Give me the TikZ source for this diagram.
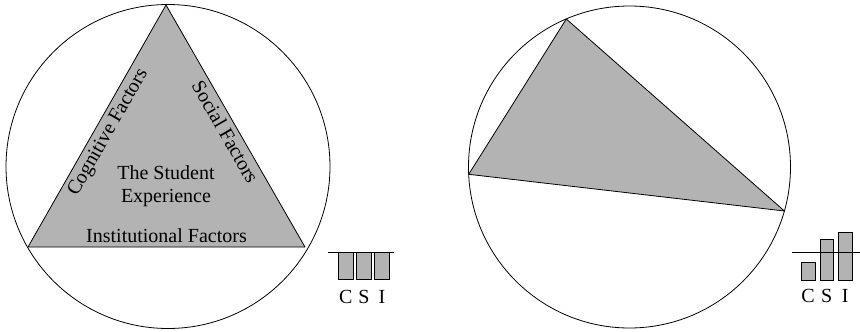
\documentclass[tikz,border=0pt]{standalone}
\usepackage{fontspec}
\setmainfont{Liberation Serif}
\usetikzlibrary{calc, positioning}
\definecolor{shade}{RGB}{179, 179, 179}

\begin{document}
\begin{tikzpicture}[x=1pt, y=-1pt,
        ring/.style={draw, line width=0.8pt},
        wedge/.style={draw, line width=0.8pt, fill=shade, line join=round},
        bar/.style={rectangle, draw, line width=0.8pt, fill=shade,
                    inner sep=0pt, anchor=north west},
        factor/.style={font=\fontsize{20}{22.5}\selectfont, align=center},
        tag/.style={font=\fontsize{20}{22.5}\selectfont, inner sep=0pt,
                    text height=13pt, text depth=0pt},
    ]
        \useasboundingbox (0,0) rectangle (860,332);

        % balanced experience
        \coordinate (cL) at (168,166.5);
        \coordinate (apex) at (166,5);
        \coordinate (baseW) at (28,247);
        \coordinate (baseE) at (305,247);
        \draw[wedge] (apex) -- (baseW) -- (baseE) -- cycle;
        \draw[ring] (cL) circle[radius=162];

        \path (baseW) -- node[factor, sloped, below=1pt] (cog) {Cognitive Factors} (apex);
        \path (apex) -- node[factor, sloped, below=1pt] (soc) {Social Factors} (baseE);
        \node[factor, anchor=base] (inst) at (166.5,242) {Institutional Factors};
        \node[factor] (exp) at (166,186) {The Student\\Experience};

        \node[bar, minimum width=15pt, minimum height=26.7pt] (barC) at (338,252.3) {};
        \node[bar, minimum width=15pt, minimum height=26.7pt] (barS) at (356,252.3) {};
        \node[bar, minimum width=15pt, minimum height=26.7pt] (barI) at (374,252.3) {};
        \draw[ring] ($(barC.north west)+(-10,0)$) -- ($(barI.north east)+(4,0)$);
        \node[tag, below=10pt of barC] {C};
        \node[tag, below=10pt of barS] {S};
        \node[tag, below=10pt of barI] {I};

        % skewed experience
        \coordinate (cR) at (629.5,167);
        \coordinate (peak) at (566.3,19);
        \coordinate (west) at (468.7,174.3);
        \coordinate (east) at (784.4,211);
        \draw[wedge] (peak) -- (west) -- (east) -- cycle;
        \draw[ring] (cR) circle[radius=161];

        \node[bar, minimum width=13.5pt, minimum height=17.7pt] (lowC) at (801,262.3) {};
        \node[bar, minimum width=13.5pt, minimum height=40.7pt] (lowS) at (819.5,239.3) {};
        \node[bar, minimum width=13.5pt, minimum height=47.7pt] (lowI) at (838,232.3) {};
        \draw[ring] (791.7,252.3) coordinate (ruleW) -- (860,252.3) coordinate (ruleE);
        \node[tag, below=8pt of lowC] {C};
        \node[tag, below=8pt of lowS] {S};
        \node[tag, below=8pt of lowI] {I};
    \end{tikzpicture}
\end{document}
